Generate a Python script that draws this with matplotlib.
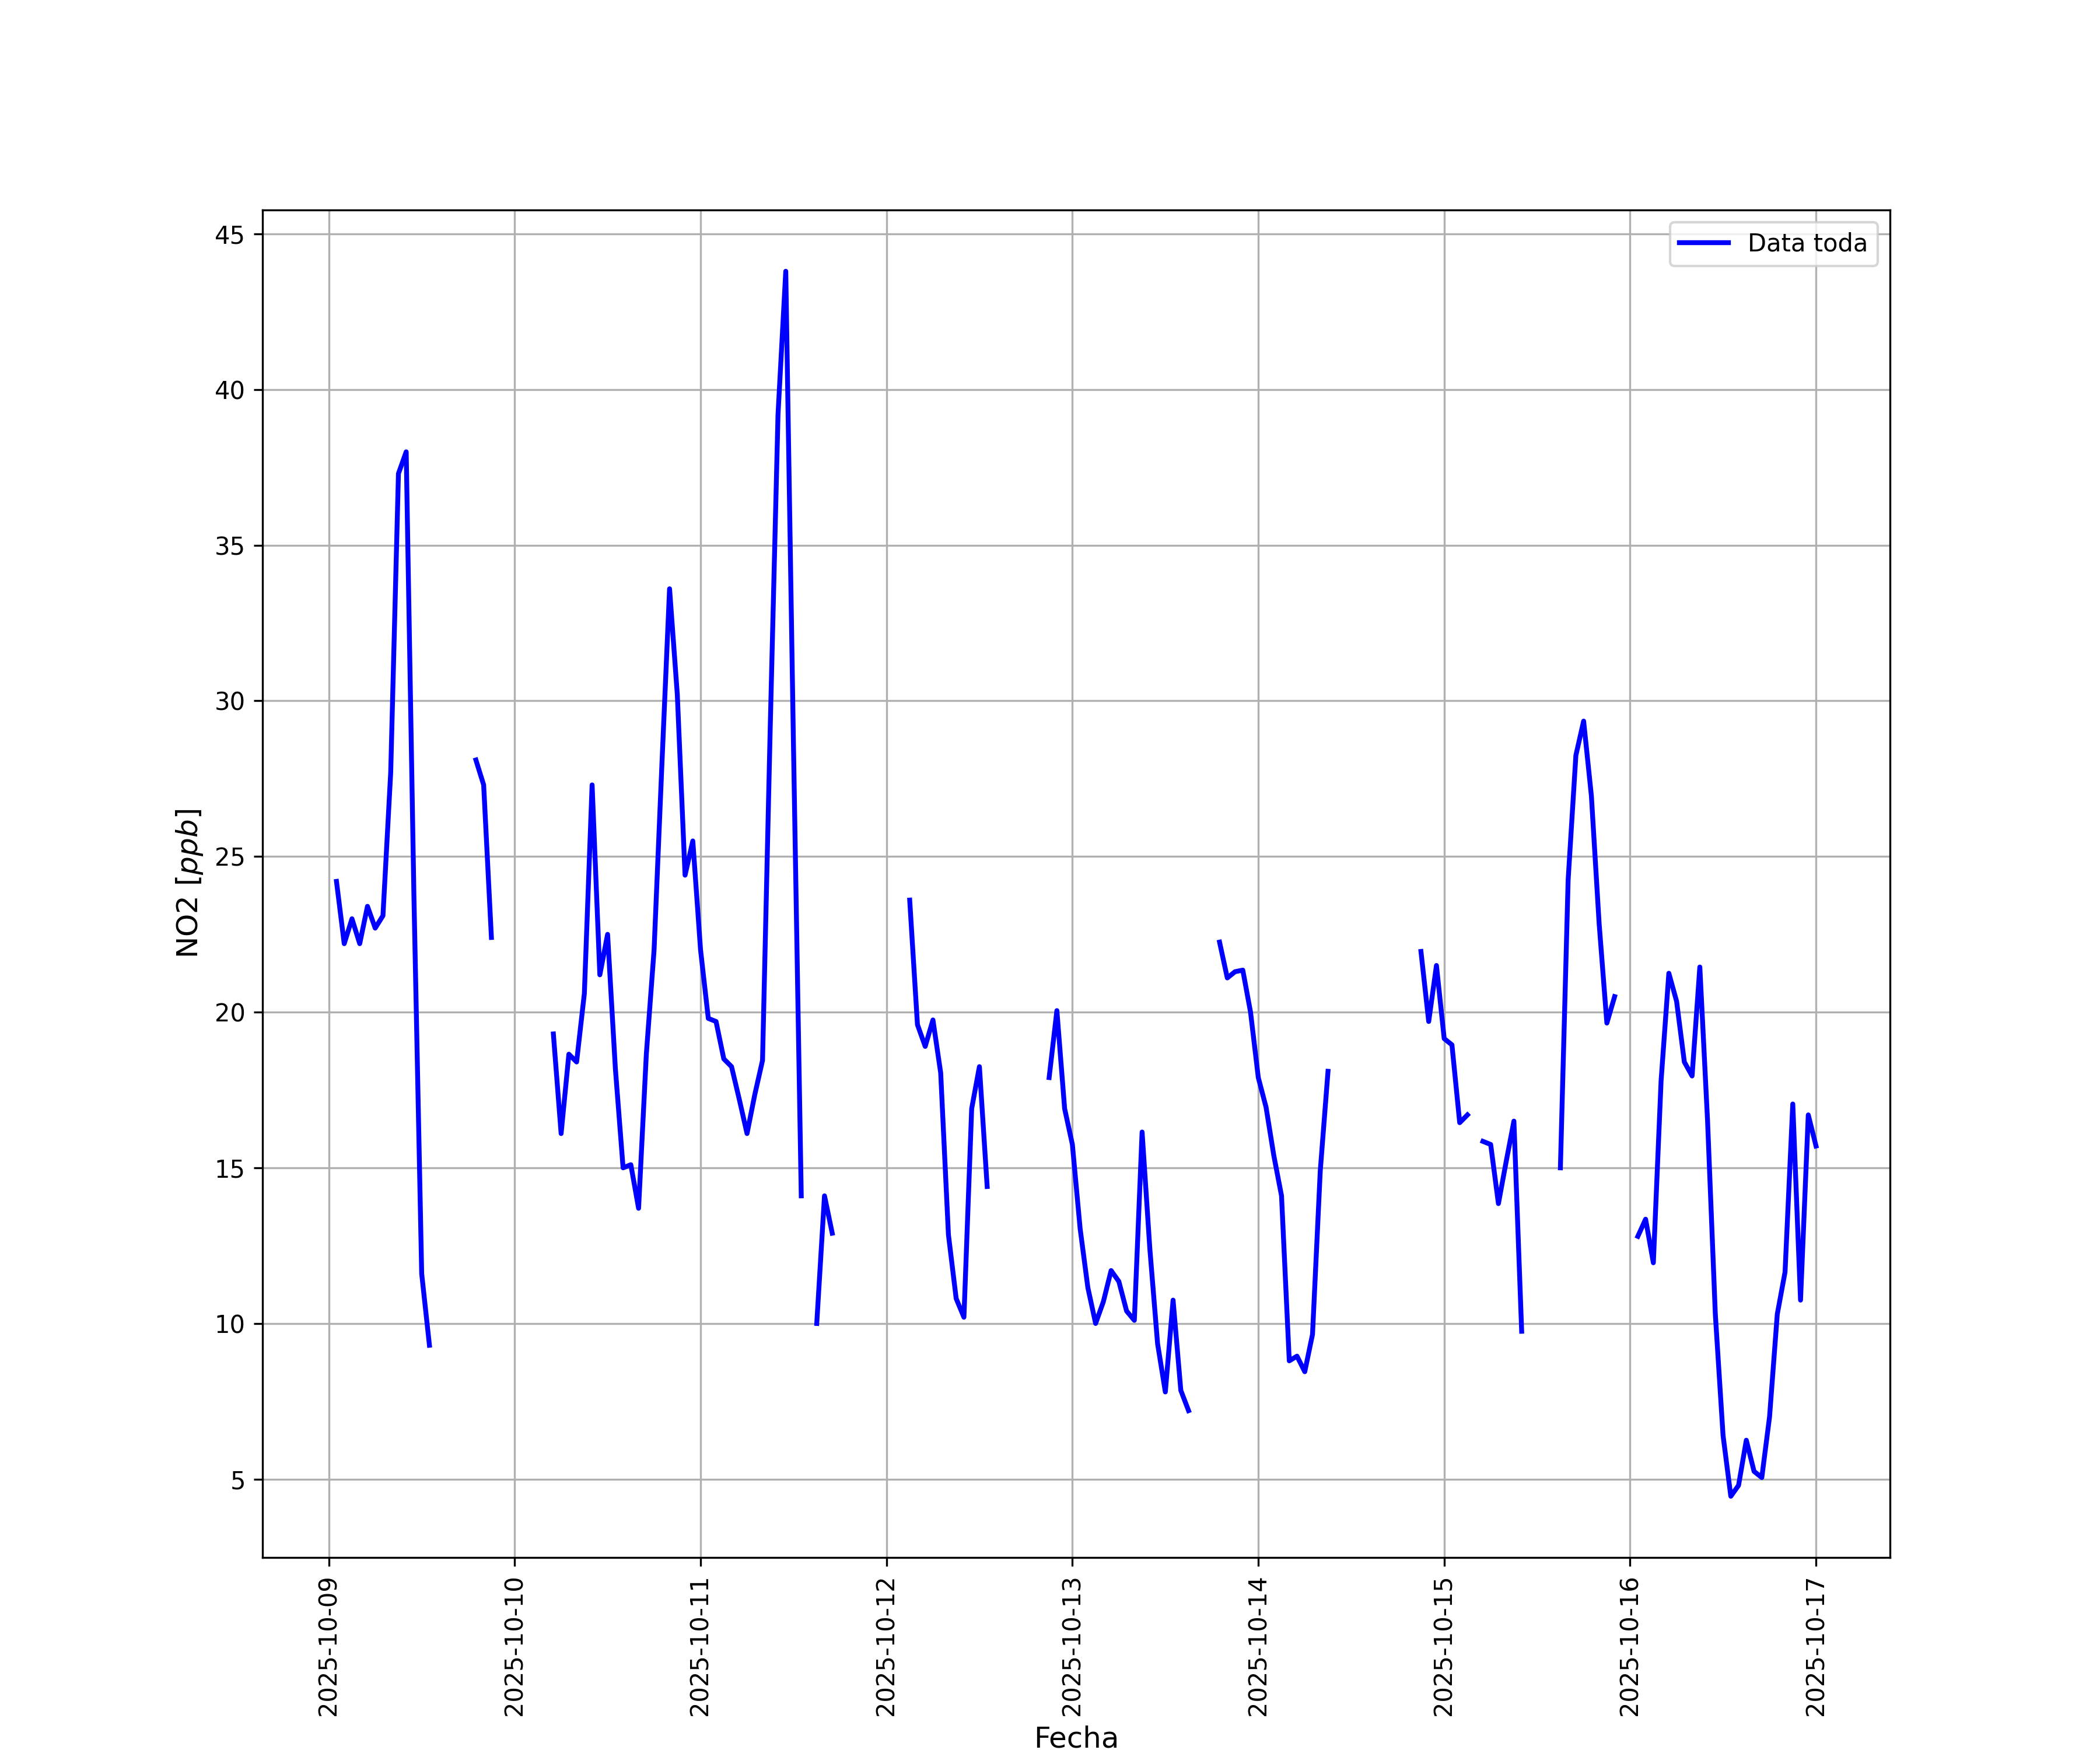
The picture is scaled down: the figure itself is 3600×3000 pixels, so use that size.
import numpy as np
import pandas as pd
import matplotlib
matplotlib.use("Agg")
import matplotlib.pyplot as plt
import matplotlib.dates as mdates

nan = np.nan

# NO2 hourly values (ppb), one list per day, hour 0..23
d09 = [nan, 24.2, 22.2, 23.0, 22.2, 23.4, 22.7, 23.1, 27.7, 37.3, 38.0, 23.7,
       11.6, 9.3, nan, nan, nan, nan, nan, 28.1, 27.3, 22.4, nan, nan]
d10 = [nan, nan, nan, nan, nan, 19.3, 16.1, 18.65, 18.4, 20.6, 27.3, 21.2,
       22.5, 18.2, 15.0, 15.1, 13.7, 18.65, 22.0, 27.9, 33.6, 30.2, 24.4, 25.5]
d11 = [22.0, 19.8, 19.7, 18.5, 18.25, 17.2, 16.1, 17.35, 18.45, 29.2, 39.2, 43.8,
       28.5, 14.1, nan, 10.0, 14.1, 12.9, nan, nan, nan, nan, nan, nan]
d12 = [nan, nan, nan, 23.6, 19.6, 18.9, 19.75, 18.05, 12.85, 10.8, 10.2, 16.9,
       18.25, 14.4, nan, nan, nan, nan, nan, nan, nan, 17.9, 20.05, 16.9]
d13 = [15.75, 13.05, 11.15, 10.0, 10.7, 11.7, 11.35, 10.4, 10.1, 16.15, 12.4, 9.35,
       7.8, 10.75, 7.85, 7.2, nan, nan, nan, 22.25, 21.1, 21.3, 21.35, 20.0]
d14 = [17.9, 16.95, 15.4, 14.1, 8.8, 8.95, 8.45, 9.65, 14.9, 18.1, nan, nan,
       nan, nan, nan, nan, nan, nan, nan, nan, nan, 21.95, 19.7, 21.5]
d15 = [19.15, 18.95, 16.45, 16.7, nan, 15.85, 15.75, 13.85, 15.2, 16.5, 9.75, nan,
       nan, nan, nan, 15.0, 24.25, 28.25, 29.35, 26.95, 22.85, 19.65, 20.5, nan]
d16 = [nan, 12.8, 13.35, 11.95, 17.8, 21.25, 20.35, 18.4, 17.95, 21.45, 16.5, 10.3,
       6.4, 4.45, 4.8, 6.25, 5.25, 5.05, 7.0, 10.3, 11.65, 17.05, 10.75, 16.7]
d17 = [15.7]

valores = d09 + d10 + d11 + d12 + d13 + d14 + d15 + d16 + d17
fechas = pd.date_range("2025-10-09 00:00", periods=len(valores), freq="h")

fig, ax = plt.subplots(figsize=(12, 10), dpi=300)
ax.plot(fechas, valores, c='b', linewidth=2, label="Data toda")
ax.set_xlabel("Fecha", fontsize=12)
ax.set_ylabel("NO2 [$ppb$]", fontsize=12)
ax.xaxis.set_major_locator(mdates.DayLocator())
ax.xaxis.set_major_formatter(mdates.DateFormatter("%Y-%m-%d"))
ax.tick_params(axis='x', labelrotation=90)
ax.grid()
ax.legend(loc="upper right")
fig.savefig("out.png")
